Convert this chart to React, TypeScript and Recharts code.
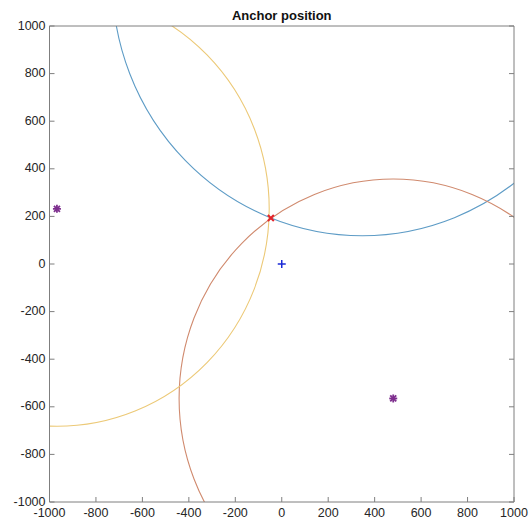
import React from 'react';
import { ComposedChart, XAxis, YAxis, Scatter, ReferenceArea } from 'recharts';

const xTicks = [-1000, -800, -600, -400, -200, 0, 200, 400, 600, 800, 1000];
const yTicks = [-1000, -800, -600, -400, -200, 0, 200, 400, 600, 800, 1000];

// anchors (centres of the range circles) and measured ranges
const anchorX = [347, 480, -968];
const anchorY = [1196, -565, 232];
const anchorRange = [1077, 922, 914];
const circleColors = ['#5e9cc6', '#d08a6e', '#ecc977'];

const estimateX = [-47];
const estimateY = [193];
const originX = [0];
const originY = [0];

const DOMAIN: [number, number] = [-1000, 1000];
const FONT = '"Liberation Sans", Arial, Helvetica, sans-serif';
const FRAME = '#7f7f7f';
const TEXT = '#262626';

// layout
const W = 530;
const H = 519;
const M = { top: 25, right: 15, bottom: 0, left: 0 };
const Y_AXIS_W = 49.5;
const X_AXIS_H = 17;
const PLOT = {
  left: M.left + Y_AXIS_W,
  top: M.top + 1,
  right: W - M.right - 1,
  bottom: H - M.bottom - X_AXIS_H,
};

const anchorPoints = anchorX
  .map((x, i) => ({ x, y: anchorY[i] }))
  .filter((p) => p.x >= DOMAIN[0] && p.x <= DOMAIN[1] && p.y >= DOMAIN[0] && p.y <= DOMAIN[1]);
const estimatePoints = estimateX.map((x, i) => ({ x, y: estimateY[i] }));
const originPoints = originX.map((x, i) => ({ x, y: originY[i] }));

const BottomTick = (props: any) => {
  const { x, y, payload } = props;
  return (
    <g>
      <line x1={x} x2={x} y1={y} y2={y - 5} stroke={FRAME} strokeWidth={1} />
      <text x={x} y={y + 15} textAnchor="middle" fontFamily={FONT} fontSize={12.5} fill={TEXT}>
        {payload.value}
      </text>
    </g>
  );
};
const TopTick = (props: any) => {
  const { x, y } = props;
  return <line x1={x} x2={x} y1={y} y2={y + 5} stroke={FRAME} strokeWidth={1} />;
};
const LeftTick = (props: any) => {
  const { x, y, payload } = props;
  return (
    <g>
      <line x1={x} x2={x + 5} y1={y} y2={y} stroke={FRAME} strokeWidth={1} />
      <text x={x - 4} y={y + 3.5} textAnchor="end" fontFamily={FONT} fontSize={12.5} fill={TEXT}>
        {payload.value}
      </text>
    </g>
  );
};
const RightTick = (props: any) => {
  const { x, y } = props;
  return <line x1={x} x2={x - 5} y1={y} y2={y} stroke={FRAME} strokeWidth={1} />;
};

const makeCircle = (color: string, id: string) => (props: any) => {
  const { x, y, width, height } = props;
  const w = Math.abs(width);
  const h = Math.abs(height);
  const left = Math.min(x, x + width);
  const top = Math.min(y, y + height);
  return (
    <g>
      <defs>
        <clipPath id={id}>
          <rect x={PLOT.left} y={PLOT.top} width={PLOT.right - PLOT.left} height={PLOT.bottom - PLOT.top} />
        </clipPath>
      </defs>
      <ellipse
        clipPath={`url(#${id})`}
        cx={left + w / 2}
        cy={top + h / 2}
        rx={w / 2}
        ry={h / 2}
        fill="none"
        stroke={color}
        strokeWidth={1.1}
      />
    </g>
  );
};

const StarShape = (props: any) => {
  const { cx, cy } = props;
  const s = 4;
  const d = 3;
  const c = '#7e2f8e';
  return (
    <g stroke={c} strokeWidth={1.8}>
      <line x1={cx - s} x2={cx + s} y1={cy} y2={cy} />
      <line x1={cx} x2={cx} y1={cy - s} y2={cy + s} />
      <line x1={cx - d} x2={cx + d} y1={cy - d} y2={cy + d} />
      <line x1={cx - d} x2={cx + d} y1={cy + d} y2={cy - d} />
    </g>
  );
};
const PlusShape = (props: any) => {
  const { cx, cy } = props;
  const s = 4;
  return (
    <g stroke="#1a2ad6" strokeWidth={1.5}>
      <line x1={cx - s} x2={cx + s} y1={cy} y2={cy} />
      <line x1={cx} x2={cx} y1={cy - s} y2={cy + s} />
    </g>
  );
};
const CrossShape = (props: any) => {
  const { cx, cy } = props;
  const s = 3;
  return (
    <g stroke="#e3242b" strokeWidth={2}>
      <line x1={cx - s} x2={cx + s} y1={cy - s} y2={cy + s} />
      <line x1={cx - s} x2={cx + s} y1={cy + s} y2={cy - s} />
    </g>
  );
};

export default function App() {
  return (
    <div style={{ position: 'absolute', left: 0, top: 0, width: W, height: H, background: '#fff' }}>
      <div
        style={{
          position: 'absolute',
          left: PLOT.left,
          width: PLOT.right - PLOT.left,
          top: 8,
          textAlign: 'center',
          fontFamily: FONT,
          fontWeight: 'bold',
          fontSize: 13,
          lineHeight: '15px',
          color: '#111',
        }}
      >
        Anchor position
      </div>
      <ComposedChart width={W} height={H} margin={M}>
        <XAxis
          xAxisId={0}
          type="number"
          dataKey="x"
          domain={DOMAIN}
          ticks={xTicks}
          interval={0}
          allowDataOverflow
          height={X_AXIS_H}
          tickSize={0}
          tickMargin={0}
          tickLine={false}
          axisLine={{ stroke: FRAME }}
          tick={<BottomTick />}
        />
        <XAxis
          xAxisId="top"
          orientation="top"
          type="number"
          domain={DOMAIN}
          ticks={xTicks}
          interval={0}
          allowDataOverflow
          height={1}
          tickSize={0}
          tickMargin={0}
          tickLine={false}
          axisLine={{ stroke: FRAME }}
          tick={<TopTick />}
        />
        <YAxis
          yAxisId={0}
          type="number"
          dataKey="y"
          domain={DOMAIN}
          ticks={yTicks}
          interval={0}
          allowDataOverflow
          width={Y_AXIS_W}
          tickSize={0}
          tickMargin={0}
          tickLine={false}
          axisLine={{ stroke: FRAME }}
          tick={<LeftTick />}
        />
        <YAxis
          yAxisId="right"
          orientation="right"
          type="number"
          domain={DOMAIN}
          ticks={yTicks}
          interval={0}
          allowDataOverflow
          width={1}
          tickSize={0}
          tickMargin={0}
          tickLine={false}
          axisLine={{ stroke: FRAME }}
          tick={<RightTick />}
        />
        {anchorX.map((ax, i) => (
          <ReferenceArea
            key={i}
            xAxisId={0}
            yAxisId={0}
            x1={ax - anchorRange[i]}
            x2={ax + anchorRange[i]}
            y1={anchorY[i] - anchorRange[i]}
            y2={anchorY[i] + anchorRange[i]}
            ifOverflow="visible"
            shape={makeCircle(circleColors[i], `range-clip-${i}`)}
          />
        ))}
        <Scatter data={originPoints} xAxisId={0} yAxisId={0} shape={<PlusShape />} isAnimationActive={false} />
        <Scatter data={anchorPoints} xAxisId={0} yAxisId={0} shape={<StarShape />} isAnimationActive={false} />
        <Scatter data={estimatePoints} xAxisId={0} yAxisId={0} shape={<CrossShape />} isAnimationActive={false} />
      </ComposedChart>
    </div>
  );
}
